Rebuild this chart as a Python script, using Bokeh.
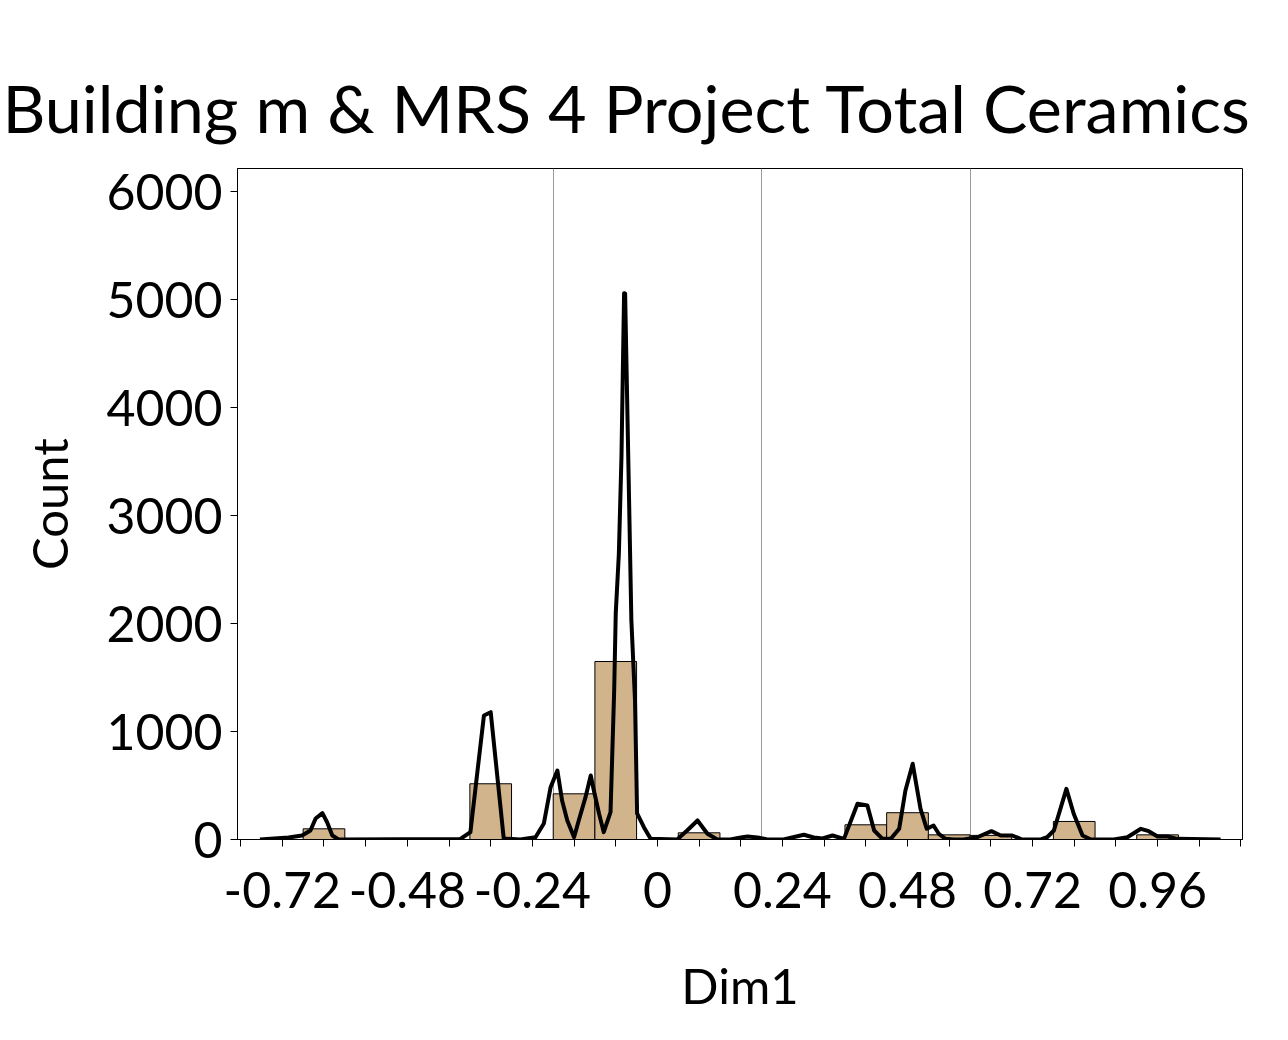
from bokeh.plotting import figure
from bokeh.models import FixedTicker, Range1d, ColumnDataSource
from bokeh.embed import file_html
from bokeh.resources import INLINE

# ---- data ----
title_text = "Building m & MRS 4 Project Total Ceramics"
x_label = "Dim1"
y_label = "Count"

bin_left = [-0.68, -0.36, -0.20, -0.12, 0.04, 0.36, 0.44, 0.52, 0.60, 0.76, 0.92]
bin_right = [-0.60, -0.28, -0.12, -0.04, 0.12, 0.44, 0.52, 0.60, 0.68, 0.84, 1.00]
bin_count = [99, 516, 423, 1648, 62, 136, 248, 43, 38, 167, 43]

curve_x = [-0.763, -0.708, -0.682, -0.666, -0.656, -0.643, -0.634, -0.624, -0.612,
           -0.378, -0.359, -0.333, -0.320, -0.295, -0.263, -0.234, -0.218, -0.205,
           -0.192, -0.183, -0.173, -0.160, -0.151, -0.138, -0.128, -0.122, -0.112,
           -0.103, -0.090, -0.083, -0.080, -0.074, -0.069, -0.064, -0.062, -0.050,
           -0.043, -0.039, -0.026, -0.013, 0.038, 0.057, 0.077, 0.096, 0.115, 0.140,
           0.160, 0.173, 0.192, 0.211, 0.242, 0.281, 0.300, 0.317, 0.336, 0.358,
           0.384, 0.403, 0.416, 0.432, 0.448, 0.464, 0.476, 0.490, 0.505, 0.517,
           0.530, 0.540, 0.553, 0.569, 0.588, 0.614, 0.641, 0.659, 0.681, 0.700,
           0.736, 0.748, 0.761, 0.785, 0.799, 0.816, 0.832, 0.876, 0.902, 0.928,
           0.943, 0.960, 0.979, 0.998, 1.081]
curve_y = [0, 19, 37, 83, 194, 244, 160, 37, 0,
           5, 68, 1148, 1179, 9, 0, 21, 148, 484,
           639, 361, 176, 21, 176, 392, 593, 454, 238,
           68, 253, 1380, 2093, 2648, 3546, 5058, 5056, 2028,
           1287, 241, 114, 6, 0, 83, 176, 53, 0, 0,
           19, 28, 19, 0, 0, 44, 19, 9, 37, 6,
           331, 315, 83, 6, 6, 99, 454, 701, 284, 99,
           130, 53, 6, 0, 0, 21, 77, 37, 37, 0,
           0, 21, 83, 469, 238, 37, 0, 0, 21, 99,
           77, 28, 28, 6, 0]

x_ticks = [-0.72, -0.48, -0.24, 0.0, 0.24, 0.48, 0.72, 0.96]
x_tick_labels = ["-0.72", "-0.48", "-0.24", "0", "0.24", "0.48", "0.72", "0.96"]
x_minor_ticks = [-0.80, -0.64, -0.56, -0.40, -0.32, -0.16, -0.08, 0.08, 0.16,
                 0.32, 0.40, 0.56, 0.64, 0.80, 0.88, 1.04, 1.12]
y_ticks = [0, 1000, 2000, 3000, 4000, 5000, 6000]
grid_x = [-0.2, 0.2, 0.6]

FONT = "Lato"

p = figure(width=1280, height=1032,
           x_range=Range1d(-0.806, 1.123), y_range=Range1d(0, 6213),
           output_backend="svg", toolbar_location=None,
           min_border_left=237, min_border_right=38,
           min_border_top=168, min_border_bottom=193)

p.background_fill_color = "white"
p.border_fill_color = "white"
p.outline_line_color = "black"
p.outline_line_width = 1
p.outline_line_alpha = 1.0

# grid
p.ygrid.visible = False
p.xgrid.ticker = FixedTicker(ticks=grid_x)
p.xgrid.grid_line_color = "#999999"
p.xgrid.grid_line_width = 1

# histogram bars
bars = ColumnDataSource(dict(left=bin_left, right=bin_right, top=bin_count))
p.quad(left="left", right="right", bottom=0, top="top", source=bars,
       fill_color="#D2B48C", line_color="black", line_width=1)

# density curve
p.line(curve_x, curve_y, line_color="black", line_width=4, line_join="round")

# axes
xa = p.xaxis[0]
xa.ticker = FixedTicker(ticks=x_ticks, minor_ticks=x_minor_ticks)
xa.major_label_overrides = {t: l for t, l in zip(x_ticks, x_tick_labels)}
ya = p.yaxis[0]
ya.ticker = FixedTicker(ticks=y_ticks)

for ax in (xa, ya):
    ax.axis_line_color = "black"
    ax.major_tick_line_color = "black"
    ax.major_tick_in = 0
    ax.major_tick_out = 7
    ax.major_label_text_font = FONT
    ax.major_label_text_font_size = "50px"
    ax.major_label_text_color = "black"
    ax.axis_label_text_font = FONT
    ax.axis_label_text_font_size = "49px"
    ax.axis_label_text_font_style = "normal"
    ax.axis_label_text_color = "black"

xa.minor_tick_line_color = "black"
xa.minor_tick_in = 0
xa.minor_tick_out = 7
ya.minor_tick_line_color = None
xa.major_label_standoff = 25
ya.major_label_standoff = 8

xa.axis_label = x_label
ya.axis_label = y_label
xa.axis_label_standoff = 45
ya.axis_label_standoff = 25

# title
p.title.text = title_text
p.title.text_font = FONT
p.title.text_font_size = "66.5px"
p.title.text_font_style = "normal"
p.title.text_color = "black"
p.title.align = "left"
p.title.offset = -235
p.title.standoff = 43

open("out.html", "w").write(file_html(p, INLINE))
